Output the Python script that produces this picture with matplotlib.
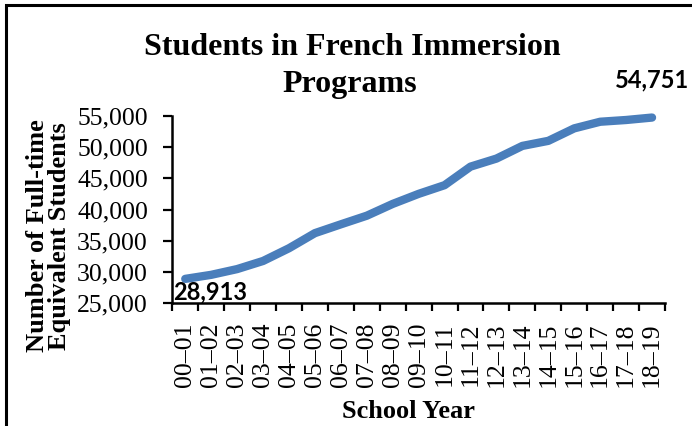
import matplotlib
matplotlib.use("Agg")
import matplotlib.pyplot as plt
from matplotlib.patches import Rectangle
from matplotlib.ticker import FuncFormatter, FixedLocator

# School years (2000-01 through 2018-19)
school_years = ["00\u201301", "01\u201302", "02\u201303", "03\u201304", "04\u201305",
                "05\u201306", "06\u201307", "07\u201308", "08\u201309", "09\u201310",
                "10\u201311", "11\u201312", "12\u201313", "13\u201314", "14\u201315",
                "15\u201316", "16\u201317", "17\u201318", "18\u201319"]

# Full-time equivalent students in French immersion
fte_students = [28913, 29560, 30480, 31780, 33820, 36240, 37650, 39030, 40920,
                42530, 43920, 46890, 48180, 50210, 51020, 53020, 54080, 54360,
                54751]

y_ticks = [25000, 30000, 35000, 40000, 45000, 50000, 55000]

serif = ["Liberation Serif", "DejaVu Serif"]
sans = ["Lato", "DejaVu Sans"]

W, H = 692, 426
fig = plt.figure(figsize=(W / 100, H / 100), dpi=100)
ax = fig.add_axes([172.3 / W, 1 - 303.3 / H, (665 - 172.3) / W, (303.3 - 116) / H])

x = list(range(len(school_years)))
ax.plot(x, fte_students, color="#4a7ebb", linewidth=6, solid_capstyle="round",
        solid_joinstyle="round", clip_on=False)

ax.set_xlim(-0.5, len(school_years) - 0.5)
ax.set_ylim(y_ticks[0], y_ticks[-1])
ax.set_yticks(y_ticks)
ax.yaxis.set_major_formatter(FuncFormatter(lambda v, p: f"{int(v):,}"))

# Category labels at centres, tick marks at the category boundaries
ax.set_xticks(x)
ax.set_xticklabels(school_years, rotation=90, fontfamily=serif, fontsize=18.5)
ax.tick_params(axis="x", which="major", length=0, pad=14)
ax.xaxis.set_minor_locator(FixedLocator([i - 0.5 for i in range(len(school_years) + 1)]))
ax.tick_params(axis="x", which="minor", direction="out", length=6, width=1.6, color="black")
ax.tick_params(axis="y", direction="out", length=6.5, width=1.6, pad=11)
for lbl in ax.get_yticklabels():
    lbl.set_fontfamily(serif)
    lbl.set_fontsize(18.5)

for side in ("top", "right"):
    ax.spines[side].set_visible(False)
for side in ("left", "bottom"):
    ax.spines[side].set_linewidth(1.8)

# Endpoint value labels
ax.annotate(f"{fte_students[0]:,}", xy=(x[0], fte_students[0]), xytext=(-9, -15),
            textcoords="offset points", ha="left", va="baseline", fontfamily=sans,
            fontweight="bold", fontsize=17)
ax.annotate(f"{fte_students[-1]:,}", xy=(x[-1], fte_students[-1]), xytext=(-26.5, 22),
            textcoords="offset points", ha="left", va="baseline", fontfamily=sans,
            fontweight="bold", fontsize=17)

# Title, two centred lines
fig.text(352 / W, 1 - 55 / H, "Students in French Immersion", ha="center",
         va="baseline", fontfamily=serif, fontweight="bold", fontsize=23)
fig.text(350 / W, 1 - 92 / H, "Programs", ha="center",
         va="baseline", fontfamily=serif, fontweight="bold", fontsize=23)

fig.text(409 / W, 1 - 418 / H, "School Year", ha="center", va="baseline",
         fontfamily=serif, fontweight="bold", fontsize=19)

# Vertical axis title, two lines
for xb, line in ((44, "Number of Full-time"), (66, "Equivalent Students")):
    fig.text(xb / W, 1 - 236 / H, line, ha="center", va="baseline", rotation=90,
             rotation_mode="anchor", fontfamily=serif, fontweight="bold",
             fontsize=19)

# Chart border
fig.patches.append(Rectangle((6 / W, -0.2), 1.2, 1 - 5 / H + 0.2,
                             transform=fig.transFigure, fill=False,
                             edgecolor="black", linewidth=2.2))

fig.savefig("out.png", dpi=100, facecolor="white")
